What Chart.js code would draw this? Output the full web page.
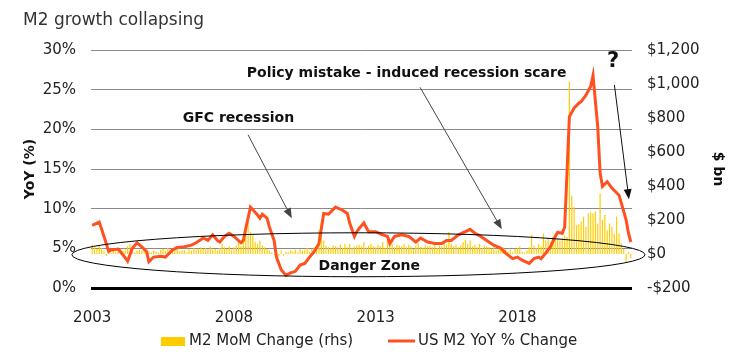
<!DOCTYPE html>
<html>
<head>
<meta charset="utf-8">
<script src="https://cdn.jsdelivr.net/npm/chart.js@4"></script>
<style>
  html, body { margin: 0; padding: 0; background: #fff; }
</style>
</head>
<body>
<canvas id="chart" width="740" height="362"></canvas>
<script>
// monthly categories, Jan 2003 onwards
const startYear = 2003;
const monthCount = 229;
const yearTicks = ["2003", "2008", "2013", "2018"];

// M2 MoM change, $bn (right axis)
const momChange = [
  55, 40, 30, 50, 35, 20, -12, 10, 5, 20, 15, 25,
  30, 20, 25, 45, 60, 15, 10, 20, 25, 20, 30, 25,
  15, 10, 20, 15, 10, 25, 30, 20, 35, 25, 20, 25,
  30, 15, 20, 25, 10, 30, 20, 35, 25, 30, 40, 30,
  35, 30, 45, 25, 30, 20, 35, 60, 40, 30, 45, 25,
  40, 50, 70, 45, 90, 150, 190, 130, 110, 70, 60, 80,
  50, 40, 30, 20, 10, -5, 10, -15, 20, -10, 15, 10,
  20, 15, 25, 10, 30, 20, 25, 35, 15, 30, 40, 35,
  140, 190, 80, 50, 40, 35, 50, 45, 40, 55, 35, 60,
  40, 60, 35, 45, 50, 55, 45, 70, 40, 50, 60, 45,
  40, 55, 45, 70, 35, 80, 45, 60, 40, 55, 50, 45,
  60, 40, 55, 45, 30, 50, 65, 40, 35, 55, 45, 50,
  40, 60, 35, 50, 45, 80, 55, 130, 60, 45, 55, 40,
  50, 70, 85, 60, 80, 45, 55, 40, 60, 35, 50, 45,
  40, 30, 45, 25, 35, 20, 40, 30, 15, 25, 10, 30,
  35, 45, 15, 10, 20, 40, 112, 50, 35, 60, 45, 120,
  80, 95, 70, 100, 85, 90, 80, 95, 110, 100, 1013, 343,
  278, 170, 175, 190, 220, 160, 240, 245, 240, 250, 180, 357,
  200, 230, 140, 180, 160, 120, 220, 120, 63, 30, -45, 14,
  -25
];

// US M2 YoY % change, read at these month positions (left axis)
const yoyMonth = [0, 3, 5, 7, 8, 11, 13, 15, 17, 19, 21, 23, 24, 26, 29, 31, 34, 36, 39, 42,
  44, 47, 49, 51, 53, 54, 56, 58, 60, 63, 64, 65, 67, 70, 71, 72, 74, 75, 77, 78,
  80, 82, 84, 86, 88, 90, 92, 94, 96, 98, 100, 101, 103, 106, 108, 109, 111, 112, 113, 115,
  117, 120, 123, 125, 126, 128, 131, 134, 137, 139, 142, 145, 148, 150, 152, 155, 158, 160, 162, 164,
  167, 170, 173, 175, 178, 180, 182, 185, 187, 189, 190, 192, 194, 196, 197, 199, 200, 202, 204, 206,
  207, 209, 211, 212, 214, 215, 216, 218, 220, 223, 224, 226, 227, 228];
const yoyPct = [7.9, 8.3, 6.5, 4.6, 4.8, 4.9, 4.2, 3.4, 5.0, 5.7, 5.2, 4.6, 3.3, 3.9, 4.0, 3.9, 4.8, 5.1, 5.2, 5.4,
  5.7, 6.3, 6.0, 6.7, 6.0, 5.8, 6.5, 6.9, 6.5, 5.7, 6.0, 7.5, 10.2, 9.2, 8.8, 9.3, 8.8, 7.7, 6.0, 3.9,
  2.3, 1.6, 1.9, 2.1, 2.9, 3.1, 3.9, 4.6, 5.6, 9.4, 9.3, 9.6, 10.2, 9.8, 9.4, 8.2, 6.5, 7.1, 7.5, 8.2,
  7.1, 7.1, 6.7, 6.5, 5.6, 6.5, 6.7, 6.5, 5.8, 6.3, 5.8, 5.6, 5.6, 6.0, 6.0, 6.7, 7.1, 7.4, 6.9, 6.6,
  6.0, 5.4, 5.0, 4.4, 3.7, 3.9, 3.5, 3.1, 3.7, 3.9, 3.7, 4.4, 5.2, 6.5, 7.0, 6.9, 7.7, 21.6, 22.7, 23.3,
  23.5, 24.3, 25.4, 26.8, 20.3, 14.5, 12.8, 13.4, 12.6, 11.7, 10.7, 8.6, 6.9, 5.8];

const labels = [];
for (let i = 0; i < monthCount; i++) {
  const y = startYear + Math.floor(i / 12);
  const m = (i % 12) + 1;
  labels.push(y + "-" + (m < 10 ? "0" + m : m));
}

const FONT = "'DejaVu Sans', sans-serif";
const barColor = "#FFCC00";
const lineColor = "#FF5020";

// annotation helpers (positions in data units: month index / % on left axis)
function arrow(ctx, x1, y1, x2, y2, color) {
  const ang = Math.atan2(y2 - y1, x2 - x1);
  const len = 10, half = 4;
  ctx.save();
  ctx.strokeStyle = color;
  ctx.fillStyle = color;
  ctx.lineWidth = 1;
  ctx.beginPath();
  ctx.moveTo(x1, y1);
  ctx.lineTo(x2 - Math.cos(ang) * len * 0.8, y2 - Math.sin(ang) * len * 0.8);
  ctx.stroke();
  ctx.beginPath();
  ctx.moveTo(x2, y2);
  ctx.lineTo(x2 - Math.cos(ang) * len - Math.sin(ang) * half, y2 - Math.sin(ang) * len + Math.cos(ang) * half);
  ctx.lineTo(x2 - Math.cos(ang) * len + Math.sin(ang) * half, y2 - Math.sin(ang) * len - Math.cos(ang) * half);
  ctx.closePath();
  ctx.fill();
  ctx.restore();
}

const extras = {
  id: "extras",
  afterDatasetsDraw(chart) {
    const ctx = chart.ctx;
    const xs = chart.scales.x, ys = chart.scales.y;
    const px = (i) => xs.getPixelForValue(i);
    const py = (v) => ys.getPixelForValue(v);
    ctx.save();

    // danger zone ellipse
    const cx = px(112.7), cy = py(4.19);
    const rx = px(112.7 + 121.3) - cx, ry = py(4.19 - 2.77) - cy;
    ctx.strokeStyle = "#000";
    ctx.lineWidth = 1;
    ctx.beginPath();
    ctx.ellipse(cx, cy, rx, ry, 0, 0, Math.PI * 2);
    ctx.stroke();

    ctx.fillStyle = "#111";
    ctx.textBaseline = "middle";
    ctx.textAlign = "center";
    ctx.font = "bold 14px " + FONT;
    ctx.fillText("Danger Zone", px(117.3), py(2.77));
    ctx.fillText("GFC recession", px(61.9), py(21.4));
    ctx.fillText("Policy mistake - induced recession scare", px(133.1), py(27.0));
    ctx.font = "bold 21px " + FONT;
    ctx.fillText("?", px(220.5), py(28.6));

    arrow(ctx, px(66.0), py(19.3), px(84.5), py(8.8), "#444");
    arrow(ctx, px(138.8), py(25.3), px(173.4), py(7.4), "#444");
    arrow(ctx, px(221.05), py(25.6), px(227.2), py(11.2), "#111");
    ctx.restore();
  },
  afterDraw(chart) {
    const ctx = chart.ctx;
    ctx.save();
    // title
    ctx.fillStyle = "#333";
    ctx.textBaseline = "middle";
    ctx.textAlign = "left";
    ctx.font = "17px " + FONT;
    ctx.fillText("M2 growth collapsing", 23, 21);
    // legend
    ctx.font = "15px " + FONT;
    ctx.fillStyle = barColor;
    ctx.fillRect(161, 337, 24, 9);
    ctx.fillStyle = "#222";
    ctx.fillText("M2 MoM Change (rhs)", 189, 341);
    ctx.strokeStyle = lineColor;
    ctx.lineWidth = 3;
    ctx.beginPath();
    ctx.moveTo(388, 341);
    ctx.lineTo(415, 341);
    ctx.stroke();
    ctx.fillText("US M2 YoY % Change", 418, 341);
    ctx.restore();
  }
};

new Chart(document.getElementById("chart"), {
  type: "bar",
  data: {
    labels: labels,
    datasets: [
      {
        type: "line",
        label: "US M2 YoY % Change",
        data: yoyMonth.map((m, i) => ({ x: labels[m], y: yoyPct[i] })),
        yAxisID: "y",
        borderColor: lineColor,
        borderWidth: 3,
        pointRadius: 0,
        tension: 0,
        order: 0,
      },
      {
        type: "bar",
        label: "M2 MoM Change (rhs)",
        data: momChange,
        yAxisID: "y1",
        backgroundColor: barColor,
        barPercentage: 0.5,
        categoryPercentage: 1,
        order: 1,
      },
    ],
  },
  options: {
    responsive: false,
    animation: false,
    layout: { padding: { top: 50, left: 0, right: 0, bottom: 0 } },
    plugins: { legend: { display: false }, tooltip: { enabled: false } },
    scales: {
      x: {
        type: "category",
        offset: true,
        grid: { display: false },
        border: { display: false },
        ticks: {
          autoSkip: false,
          maxRotation: 0,
          minRotation: 0,
          padding: 13,
          color: "#222",
          font: { family: FONT, size: 15 },
          callback: function (value) {
            const lab = this.getLabelForValue(value);
            const yr = lab.slice(0, 4);
            return lab.endsWith("-01") && yearTicks.includes(yr) ? yr : "";
          },
        },
        afterFit: (s) => { s.height = 74; },
      },
      y: {
        position: "left",
        min: 0,
        max: 30,
        ticks: {
          stepSize: 5,
          padding: 15,
          color: "#222",
          font: { family: FONT, size: 15 },
          callback: (v) => v + "%",
        },
        grid: {
          drawTicks: false,
          color: (c) => (c.tick && c.tick.value === 0 ? "#000" : "#8a8a8a"),
          lineWidth: (c) => (c.tick && c.tick.value === 0 ? 3 : 1),
        },
        border: { display: false },
        title: {
          display: true,
          text: "YoY (%)",
          color: "#111",
          font: { family: FONT, size: 14, weight: "bold" },
          padding: { top: 22, bottom: 0 },
        },
        afterFit: (s) => { s.width = 91; },
      },
      y1: {
        position: "right",
        min: -200,
        max: 1200,
        ticks: {
          stepSize: 200,
          padding: 15,
          color: "#222",
          font: { family: FONT, size: 15 },
          callback: (v) => (v < 0 ? "-$" : "$") + Math.abs(v).toLocaleString("en-US"),
        },
        grid: { display: false, drawTicks: false },
        border: { display: false },
        title: {
          display: true,
          text: "$ bn",
          color: "#111",
          font: { family: FONT, size: 14, weight: "bold" },
          padding: { top: 14, bottom: 0 },
        },
        afterFit: (s) => { s.width = 108; },
      },
    },
  },
  plugins: [extras],
});
</script>
</body>
</html>
